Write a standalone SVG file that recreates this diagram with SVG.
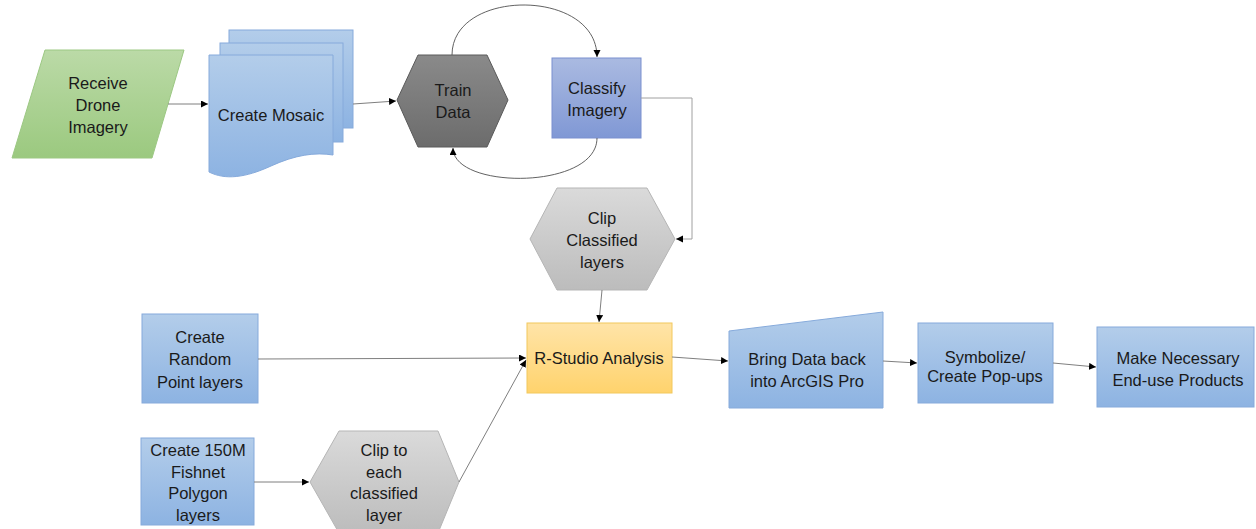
<svg xmlns="http://www.w3.org/2000/svg" width="1256" height="529" viewBox="0 0 1256 529">
  <defs>
    <linearGradient id="gBlue" x1="0" y1="0" x2="0" y2="1">
      <stop offset="0" stop-color="#b3cdea"/>
      <stop offset="1" stop-color="#8db3e2"/>
    </linearGradient>
    <linearGradient id="gGreen" x1="0" y1="0" x2="0" y2="1">
      <stop offset="0" stop-color="#bbdaa7"/>
      <stop offset="1" stop-color="#9bc97f"/>
    </linearGradient>
    <linearGradient id="gDark" x1="0" y1="0" x2="0" y2="1">
      <stop offset="0" stop-color="#8a8a8a"/>
      <stop offset="1" stop-color="#6c6c6c"/>
    </linearGradient>
    <linearGradient id="gPurple" x1="0" y1="0" x2="0" y2="1">
      <stop offset="0" stop-color="#aabae1"/>
      <stop offset="1" stop-color="#8098d5"/>
    </linearGradient>
    <linearGradient id="gGray" x1="0" y1="0" x2="0" y2="1">
      <stop offset="0" stop-color="#dadada"/>
      <stop offset="1" stop-color="#bcbcbc"/>
    </linearGradient>
    <linearGradient id="gOrange" x1="0" y1="0" x2="0" y2="1">
      <stop offset="0" stop-color="#ffe4a8"/>
      <stop offset="1" stop-color="#ffd36d"/>
    </linearGradient>
    <marker id="arr" markerUnits="userSpaceOnUse" markerWidth="8" markerHeight="8" refX="7" refY="3.5" orient="auto">
      <path d="M0,0 L7,3.5 L0,7 z" fill="#000"/>
    </marker>
  </defs>
  <style>
    text { font-family: "Liberation Sans", Arial, sans-serif; font-size: 16.5px; fill: #1a1a1a; text-anchor: middle; }
    .blue { fill: url(#gBlue); stroke: #86aadb; stroke-width: 1; }
    .green { fill: url(#gGreen); stroke: #9cc883; stroke-width: 1; }
    .dark { fill: url(#gDark); stroke: #5a5a5a; stroke-width: 1; }
    .purple { fill: url(#gPurple); stroke: #7a90cf; stroke-width: 1; }
    .gray { fill: url(#gGray); stroke: #b5b5b5; stroke-width: 1; }
    .orange { fill: url(#gOrange); stroke: #f2c85c; stroke-width: 1; }
    .conn { fill: none; stroke: #7f7f7f; stroke-width: 1; marker-end: url(#arr); }
    .arc { fill: none; stroke: #505050; stroke-width: 0.9; marker-end: url(#arr); }
  </style>

  <g id="receive-drone-imagery">
    <polygon class="green" points="45,50 184,50 152,158 12,158"/>
    <text x="98" y="89">Receive</text>
    <text x="98" y="111">Drone</text>
    <text x="98" y="133">Imagery</text>
  </g>

  <g id="create-mosaic">
    <rect class="blue" x="229" y="30" width="124" height="98"/>
    <rect class="blue" x="220" y="43" width="123" height="99"/>
    <path class="blue" d="M209,55 H333 V155 C315,152 295,155 271,166 C245,178 225,180 209,172 Z"/>
    <text x="271" y="121">Create Mosaic</text>
  </g>

  <g id="train-data">
    <polygon class="dark" points="397,100 418,55 487,55 508,100 487,147 418,147"/>
    <text x="453" y="96">Train</text>
    <text x="453" y="118">Data</text>
  </g>

  <g id="classify-imagery">
    <rect class="purple" x="552" y="58" width="89" height="80"/>
    <text x="597" y="94">Classify</text>
    <text x="597" y="116">Imagery</text>
  </g>

  <g id="clip-classified-layers">
    <polygon class="gray" points="530,239 557,188 647,188 675,239 647,290 557,290"/>
    <text x="602" y="224">Clip</text>
    <text x="602" y="246">Classified</text>
    <text x="602" y="268">layers</text>
  </g>

  <g id="r-studio-analysis">
    <rect class="orange" x="527" y="323" width="145" height="70"/>
    <text x="599" y="364">R-Studio Analysis</text>
  </g>

  <g id="bring-data-back">
    <polygon class="blue" points="729,331 883,312 883,408 729,408"/>
    <text x="807" y="365">Bring Data back</text>
    <text x="807" y="387">into ArcGIS Pro</text>
  </g>

  <g id="symbolize">
    <rect class="blue" x="918" y="323" width="135" height="80"/>
    <text x="985" y="363">Symbolize/</text>
    <text x="985" y="382">Create Pop-ups</text>
  </g>

  <g id="make-products">
    <rect class="blue" x="1097" y="327" width="157" height="80"/>
    <text x="1178" y="364">Make Necessary</text>
    <text x="1178" y="386">End-use Products</text>
  </g>

  <g id="create-random-point-layers">
    <rect class="blue" x="142" y="314" width="116" height="89"/>
    <text x="200" y="343">Create</text>
    <text x="200" y="365">Random</text>
    <text x="200" y="388">Point layers</text>
  </g>

  <g id="create-fishnet">
    <rect class="blue" x="141" y="438" width="113" height="87"/>
    <text x="198" y="456">Create 150M</text>
    <text x="198" y="478">Fishnet</text>
    <text x="198" y="499">Polygon</text>
    <text x="198" y="521">layers</text>
  </g>

  <g id="clip-to-each-classified-layer">
    <polygon class="gray" points="310,482 339,431 438,431 459,482 438,533 339,533"/>
    <text x="384" y="456">Clip to</text>
    <text x="384" y="478">each</text>
    <text x="384" y="499">classified</text>
    <text x="384" y="521">layer</text>
  </g>

  <g id="connectors">
    <path class="conn" d="M168,104 L208,104"/>
    <path class="conn" d="M353,104 L396,101"/>
    <path class="arc" d="M452,55 C452,-12 597,-12 597,57"/>
    <path class="arc" d="M597,138 C597,190 453,190 453,148"/>
    <path class="conn" style="stroke:#a0a0a0" d="M641,98 H692 V239 H676"/>
    <path class="conn" d="M602,290 L599,322"/>
    <path class="conn" d="M258,359 L526,358"/>
    <path class="conn" d="M254,482 L309,482"/>
    <path class="conn" d="M459,482 L526,360"/>
    <path class="conn" d="M672,357 L728,361"/>
    <path class="conn" d="M883,361 L917,363"/>
    <path class="conn" d="M1053,363 L1096,367"/>
  </g>
</svg>
